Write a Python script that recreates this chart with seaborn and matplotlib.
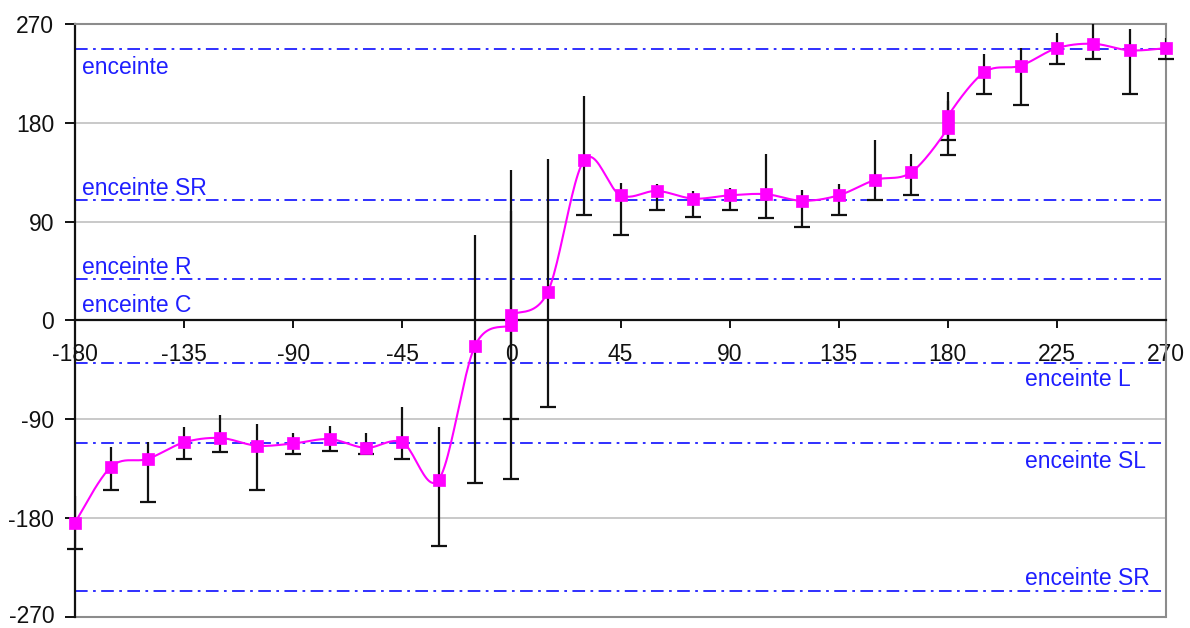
import numpy as np
import pandas as pd
import matplotlib
matplotlib.use("Agg")
import matplotlib.pyplot as plt
import matplotlib.transforms as mtransforms
import seaborn as sns

# Measured angle (deg) at each setting, with spread limits
angles = [-180, -165, -150, -135, -120, -105, -90, -75, -60, -45, -30, -15,
          0, 0, 15, 30, 45, 60, 75, 90, 105, 120, 135, 150, 165,
          180, 180, 195, 210, 225, 240, 255, 270]
values = [-184, -133, -126, -111, -107, -114, -112, -108, -116, -111, -145, -23,
          -4, 5, 26, 146, 114, 118, 111, 114, 115, 109, 114, 128, 135,
          175, 186, 226, 232, 248, 252, 246, 248]
lows = [-208, -154, -165, -126, -120, -154, -122, -119, -122, -126, -205, -148,
        -144, -90, -79, 96, 78, 101, 94, 101, 93, 85, 96, 110, 114,
        151, 164, 206, 196, 234, 238, 206, 238]
highs = [-160, -115, -111, -97, -86, -94, -102, -96, -102, -79, -97, 78,
         137, 100, 147, 204, 125, 124, 118, 121, 152, 119, 124, 164, 152,
         200, 208, 243, 248, 262, 275, 265, 257]

# Reference levels (name, value) and where their names sit
level_names = ["enceinte", "enceinte SR", "enceinte R", "enceinte L", "enceinte SL", "enceinte SR"]
level_values = [247, 110, 38, -39, -112, -246]
label_x = [-177, -177, -177, 212, 212, 212]
label_y = [230, 120, 48, -54, -128, -235]
extra_label = "enceinte C"
extra_label_y = 14

x_ticks = [-180, -135, -90, -45, 0, 45, 90, 135, 180, 225, 270]
y_ticks = [-270, -180, -90, 0, 90, 180, 270]

sns.set_style("white")
plt.rcParams["font.family"] = ["Liberation Sans", "DejaVu Sans"]

df = pd.DataFrame({"angle": angles, "value": values, "low": lows, "high": highs})


def smooth_path(xs, ys, steps=24):
    """Cardinal (Catmull-Rom) spline through the points, in point order."""
    p = np.column_stack([xs, ys]).astype(float)
    p = np.vstack([p[0], p, p[-1]])
    out = []
    t = np.linspace(0, 1, steps, endpoint=False)
    for i in range(1, len(p) - 2):
        p0, p1, p2, p3 = p[i - 1], p[i], p[i + 1], p[i + 2]
        t2, t3 = t * t, t * t * t
        seg = 0.5 * ((2 * p1)[None, :]
                     + (-p0 + p2)[None, :] * t[:, None]
                     + (2 * p0 - 5 * p1 + 4 * p2 - p3)[None, :] * t2[:, None]
                     + (-p0 + 3 * p1 - 3 * p2 + p3)[None, :] * t3[:, None])
        out.append(seg)
    out.append(p[-2][None, :])
    arr = np.vstack(out)
    return arr[:, 0], arr[:, 1]


fig = plt.figure(figsize=(11.9, 6.28), dpi=100)
ax = fig.add_axes([75 / 1190, 1 - 617 / 628, (1166 - 75) / 1190, (617 - 24) / 628])

ax.set_xlim(-180, 270)
ax.set_ylim(-270, 270)

# horizontal gridlines
for yv in [-180, -90, 90, 180]:
    ax.axhline(yv, color="#c0c0c0", lw=1.2, zorder=0)

# reference levels
for v in level_values:
    ax.axhline(v, color="#1f1fff", lw=1.3, dashes=(7, 3, 1.5, 3), zorder=1)

text_kw = dict(color="#1f1fff", fontsize=16.5, va="center")
for name, lx, ly in zip(level_names, label_x, label_y):
    ax.text(lx, ly, name, ha="left", **text_kw)
ax.text(-177, extra_label_y, extra_label, ha="left", **text_kw)

# error bars (caps at the lower end)
ax.vlines(df["angle"], df["low"], df["high"], color="#111111", lw=1.6, zorder=3)
ax.scatter(df["angle"], df["low"], marker="_", s=130, color="#111111",
           linewidths=1.6, zorder=3, clip_on=False)

# smoothed curve through the points
sx, sy = smooth_path(df["angle"].values, df["value"].values)
curve = pd.DataFrame({"x": sx, "y": sy})
sns.lineplot(data=curve, x="x", y="y", sort=False, estimator=None,
             color="#ff00ff", lw=1.5, ax=ax, zorder=4)
sns.scatterplot(data=df, x="angle", y="value", marker="s", s=80,
                color="#ff00ff", edgecolor="#ff00ff", linewidth=0.5,
                ax=ax, zorder=5, clip_on=False)

# axes styling
ax.spines["bottom"].set_position(("data", 0))
ax.spines["bottom"].set_color("#111111")
ax.spines["bottom"].set_linewidth(1.6)
ax.spines["left"].set_color("#111111")
ax.spines["left"].set_linewidth(1.6)
for s in ["top", "right"]:
    ax.spines[s].set_color("#8c8c8c")
    ax.spines[s].set_linewidth(1.5)
ax.axhline(-270, color="#8c8c8c", lw=1.5, zorder=2, clip_on=False)

ax.set_xticks(x_ticks)
ax.set_xticklabels([str(v) for v in x_ticks])
ax.set_yticks(y_ticks)
ax.set_yticklabels([str(v) for v in y_ticks])
ax.tick_params(axis="x", direction="out", length=6, width=1.4, pad=10,
               labelsize=16.5, colors="#111111", bottom=True)
ax.tick_params(axis="y", direction="out", length=7, width=1.4, pad=8,
               labelsize=16.5, colors="#111111", left=True)
ax.set_xlabel("")
ax.set_ylabel("")
ax.grid(False)

# keep the lowest y label inside the figure
fig.canvas.draw()
low_lab = ax.get_yticklabels()[0]
low_lab.set_transform(low_lab.get_transform()
                      + mtransforms.ScaledTranslation(0, 3 / 100, fig.dpi_scale_trans))

fig.savefig("out.png", dpi=100, facecolor="white")
